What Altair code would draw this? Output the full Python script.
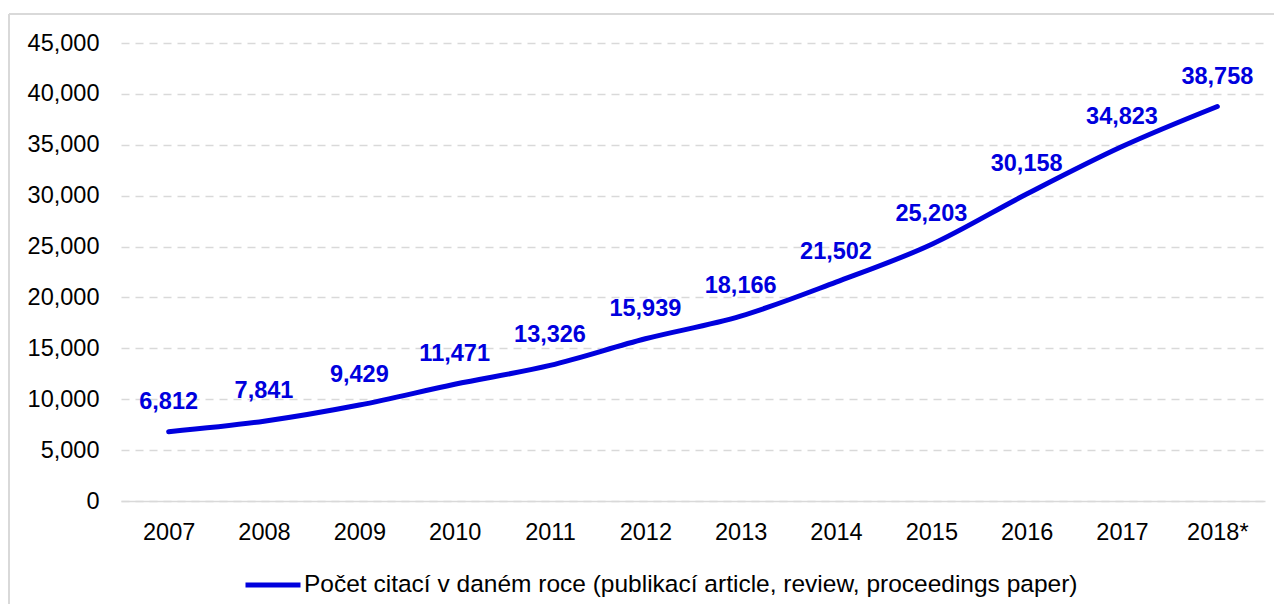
import altair as alt
import pandas as pd

years = ["2007", "2008", "2009", "2010", "2011", "2012", "2013", "2014", "2015", "2016", "2017", "2018*"]
citations = [6812, 7841, 9429, 11471, 13326, 15939, 18166, 21502, 25203, 30158, 34823, 38758]
series_name = "Počet citací  v daném roce (publikací article, review, proceedings paper)"
y_ticks = [0, 5000, 10000, 15000, 20000, 25000, 30000, 35000, 40000, 45000]

df = pd.DataFrame({"year": years, "value": citations, "series": [series_name] * len(years)})

FONT = "Liberation Sans"
BLUE = "#0000dd"

x = alt.X("year:N", sort=years, title=None,
          scale=alt.Scale(paddingInner=0, paddingOuter=0.5),
          axis=alt.Axis(labelAngle=0, labelFontSize=23.5, labelFont=FONT, labelColor="#000000",
                        ticks=False, domain=True, domainColor="#d9d9d9", domainWidth=1.5,
                        labelPadding=19, grid=False))
y = alt.Y("value:Q", title=None,
          scale=alt.Scale(domain=[0, 45000], nice=False),
          axis=alt.Axis(values=y_ticks, format=",.0f", labelFontSize=23.5, labelFont=FONT,
                        labelColor="#000000", ticks=False, domain=False, labelPadding=22,
                        grid=True, gridColor="#d9d9d9", gridDash=[8, 6], gridWidth=1.5))

line = alt.Chart(df).mark_line(strokeWidth=5, strokeCap="round", interpolate="monotone").encode(
    x=x, y=y,
    color=alt.Color("series:N", scale=alt.Scale(range=[BLUE]),
                    legend=alt.Legend(title=None, orient="none", legendX=122, legendY=512,
                                      symbolType="stroke", symbolSize=3025, symbolStrokeWidth=5,
                                      labelFontSize=24.5, labelFont=FONT, labelColor="#000000",
                                      labelOffset=1, labelLimit=1100)),
)

labels = alt.Chart(df).mark_text(fontSize=23.5, fontWeight="bold", font=FONT, color=BLUE,
                                 baseline="middle", dy=-30).encode(
    x=x, y=y,
    text=alt.Text("value:Q", format=",.0f"),
)

border_top = alt.Chart(df).mark_rule(color="#d9d9d9", strokeWidth=2).encode(
    x=alt.value(-112), x2=alt.value(1200), y=alt.value(-29))
border_left = alt.Chart(df).mark_rule(color="#d9d9d9", strokeWidth=2).encode(
    x=alt.value(-112), y=alt.value(-29), y2=alt.value(600))

chart = alt.layer(border_top, border_left, line, labels).properties(
    width=1144, height=458,
    autosize=alt.AutoSizeParams(type="none"),
    padding={"left": 113, "top": 35, "right": 9, "bottom": 103},
).configure_view(stroke=None)

chart.save("out.html", embed_options={"renderer": "svg", "actions": False})
